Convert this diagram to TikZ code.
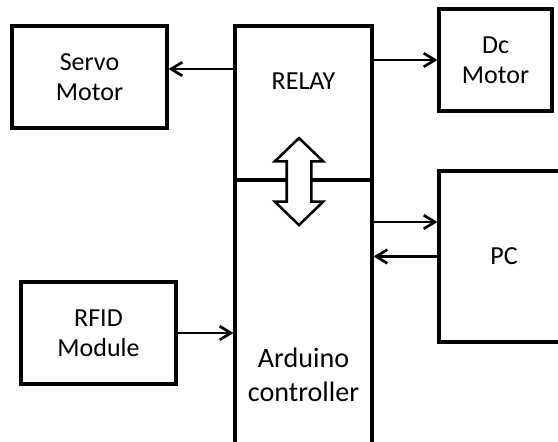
\documentclass[tikz,border=0pt]{standalone}
\usepackage{fontspec}
\setmainfont{Carlito}
\usetikzlibrary{arrows.meta,calc,shapes.arrows}
\tikzset{
  unit text/.style={font=\fontsize{18.5}{21.5}\selectfont},
  unit box/.style={rectangle,draw=black,fill=white,line width=2.2pt,
    inner sep=0pt,align=center,unit text},
  unit edge/.style={-{Straight Barb[length=2.8mm,width=3.4mm]},
    line width=1.9pt},
  bus arrow/.style={double arrow,draw=black,fill=white,line width=1.8pt,
    rotate=90,minimum height=2.175cm,minimum width=1.15cm,
    inner xsep=0pt,inner ysep=0.275cm,
    double arrow head extend=0.3cm,double arrow tip angle=92}
}
\begin{document}
\begin{tikzpicture}[x=1cm,y=1cm]
    \useasboundingbox (0,0) rectangle (13.95,11.025);
    \coordinate (servo pos) at (2.2375,9.1);
    \coordinate (relay pos) at (7.5875,8.45);
    \coordinate (arduino pos) at (7.5875,1.65);
    \coordinate (dc pos) at (12.3875,9.525);
    \coordinate (pc pos) at (12.6,4.6125);
    \coordinate (rfid pos) at (2.4625,2.7);
    \node[unit box,minimum width=3.875cm,minimum height=2.55cm]
      (servo) at (servo pos) {Servo\\Motor};
    \node[unit box,minimum width=3.425cm,minimum height=3.85cm,
      label={[name=relay text,unit text,anchor=center,yshift=-1.42cm]north:RELAY}]
      (relay) at (relay pos) {};
    \node[unit box,minimum width=3.425cm,minimum height=9.75cm,
      font=\fontsize{20}{24}\selectfont]
      (arduino) at (arduino pos) {Arduino\\controller};
    \node[unit box,minimum width=2.825cm,minimum height=2.55cm]
      (dc) at (dc pos) {Dc\\Motor};
    \node[unit box,minimum width=3.25cm,minimum height=4.275cm]
      (pc) at (pc pos) {PC};
    \node[unit box,minimum width=3.875cm,minimum height=2.55cm]
      (rfid) at (rfid pos) {RFID\\Module};
    \node[bus arrow] (bus) at ([xshift=-0.1125cm]relay.south) {};
    \coordinate (servo in) at ([yshift=0.2cm]servo.east);
    \coordinate (pc in) at ([yshift=0.8625cm]pc.west);
    \draw[unit edge] (servo in -| relay.west) -- (servo in);
    \draw[unit edge] (dc.west -| relay.east) -- (dc.west);
    \draw[unit edge] (pc in -| arduino.east) -- (pc in);
    \draw[unit edge] (pc.west) -- (pc.west -| arduino.east);
    \draw[unit edge] (rfid.east) -- (rfid.east -| arduino.west);
  \end{tikzpicture}
\end{document}
